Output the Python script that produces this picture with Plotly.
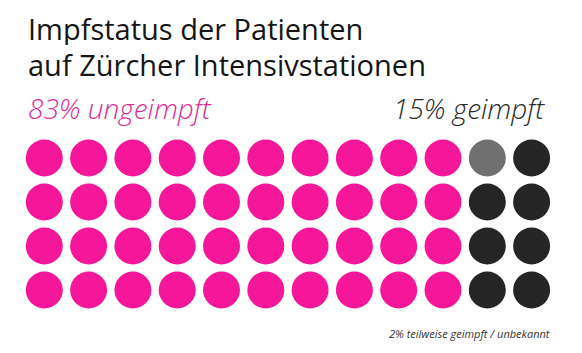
import plotly.graph_objects as go

categories = ["ungeimpft", "teilweise geimpft / unbekannt", "geimpft"]
counts = [40, 1, 7]
colors = ["#f5169a", "#707070", "#252525"]
n_rows = 4
n_cols = 12

title_lines = ["Impfstatus der Patienten", "auf Zürcher Intensivstationen"]
label_left = "83% ungeimpft"
label_right = "15% geimpft"
footnote = "2% teilweise geimpft / unbekannt"

# Fill the grid column by column (top to bottom), in category order
fig = go.Figure()
idx = 0
for cat, cnt, col in zip(categories, counts, colors):
    xs, ys = [], []
    for _ in range(cnt):
        xs.append(idx // n_rows)
        ys.append(idx % n_rows)
        idx += 1
    fig.add_trace(go.Scatter(
        x=xs, y=ys, mode="markers", name=cat,
        marker=dict(size=37, color=col, line=dict(width=0)),
        hoverinfo="name",
    ))

W, H = 582, 353
x0, dx = 44.3, 44.3
y0, dy = 158.0, 44.0
fig.update_xaxes(range=[-x0 / dx, (W - x0) / dx], visible=False, fixedrange=True)
fig.update_yaxes(range=[(H - y0) / dy, -y0 / dy], visible=False, fixedrange=True)

font = "Open Sans, Noto Sans, sans-serif"
ann = []
for i, line in enumerate(title_lines):
    ann.append(dict(text=line, x=26 / W, y=1 - (9 + 35.5 * i) / H, xref="paper", yref="paper",
                    xanchor="left", yanchor="top", showarrow=False, align="left",
                    height=34, valign="middle",
                    font=dict(family=font, size=29, color="#151515", weight=400)))
ann.append(dict(text="<i>" + label_left + "</i>", x=26 / W, y=1 - 87 / H, xref="paper", yref="paper",
                xanchor="left", yanchor="top", showarrow=False,
                font=dict(family=font, size=28, color="#dc2e97", weight=300)))
ann.append(dict(text="<i>" + label_right + "</i>", x=547 / W, y=1 - 87 / H, xref="paper", yref="paper",
                xanchor="right", yanchor="top", showarrow=False,
                font=dict(family=font, size=28, color="#2a2a2a", weight=300)))
ann.append(dict(text="<i>" + footnote + "</i>", x=552 / W, y=1 - 324 / H, xref="paper", yref="paper",
                xanchor="right", yanchor="top", showarrow=False,
                font=dict(family=font, size=11, color="#333333")))

fig.update_layout(
    width=W, height=H,
    margin=dict(l=0, r=0, t=0, b=0),
    paper_bgcolor="white", plot_bgcolor="white",
    showlegend=False,
    annotations=ann,
)

fig.write_html("out.html", config={"displayModeBar": False})
